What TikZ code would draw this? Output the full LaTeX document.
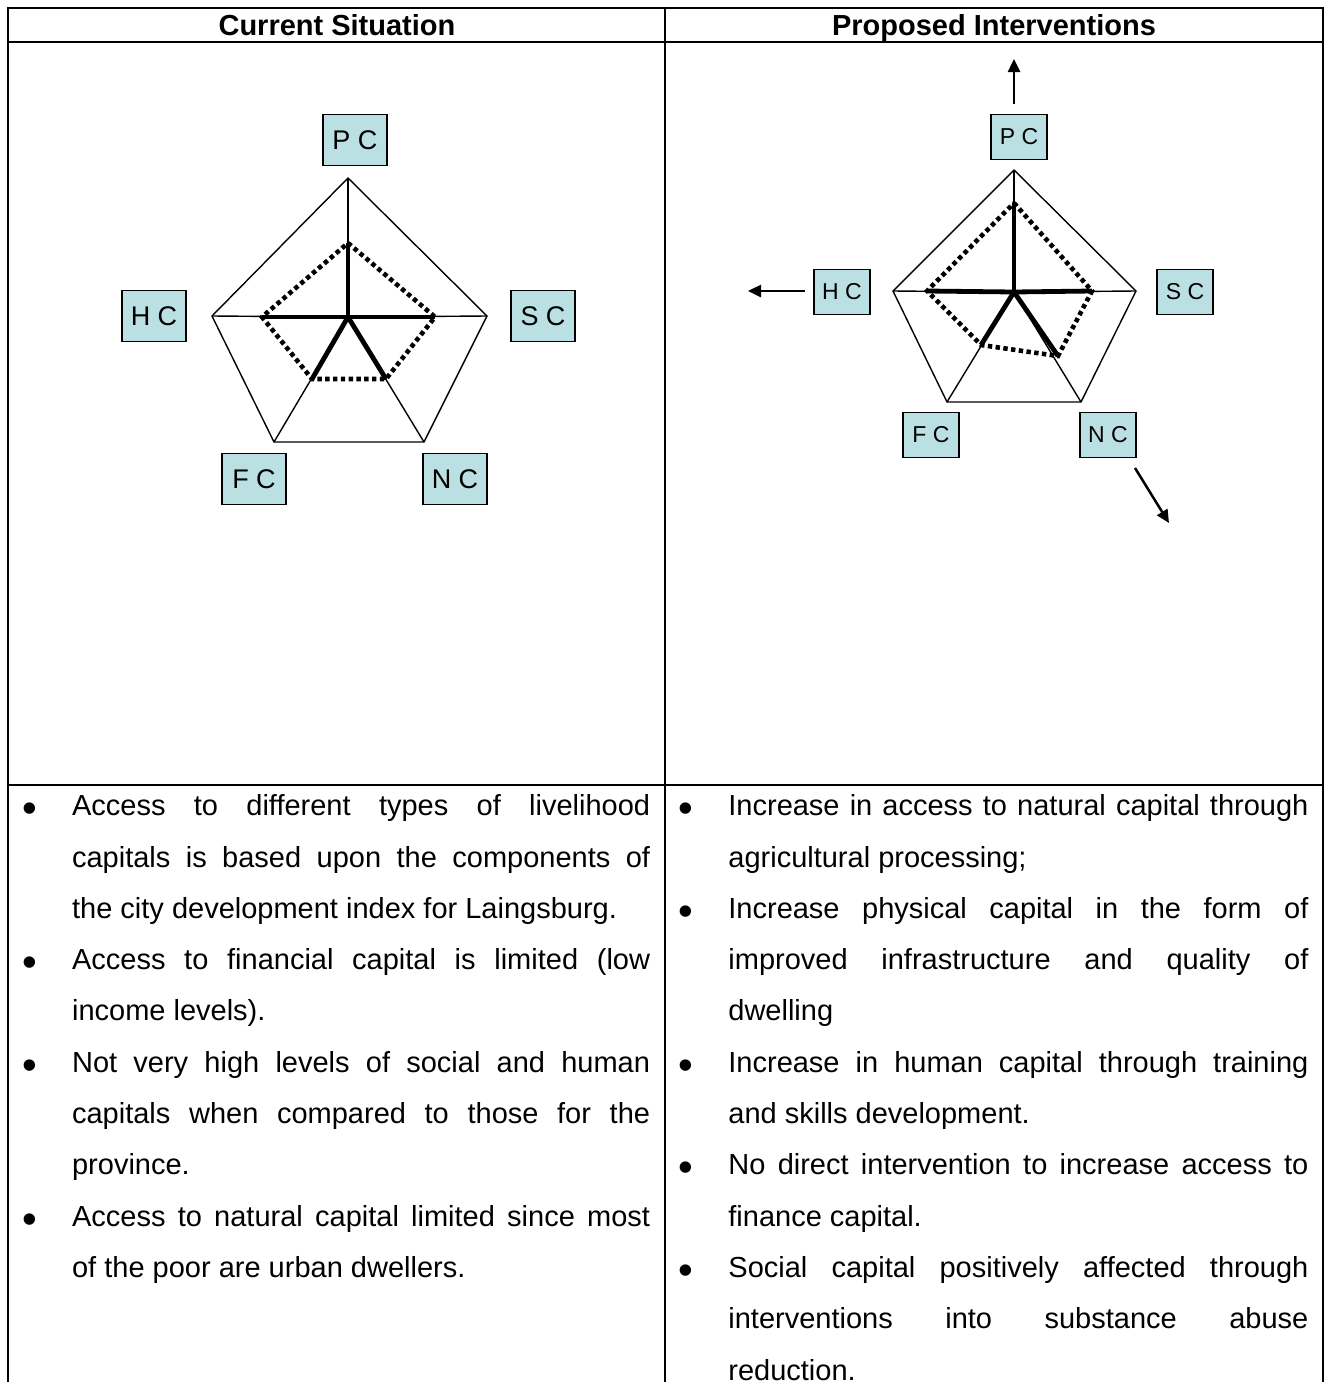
\documentclass[tikz,border=0pt]{standalone}
\usepackage{fontspec}
\setmainfont{Liberation Sans}
\usepackage{tikz}
\usetikzlibrary{arrows.meta}

\definecolor{capfill}{RGB}{187,224,227}

\begin{document}
\begin{tikzpicture}[x=0.5pt, y=-0.5pt,
  gridline/.style={line width=1pt},
  pentaline/.style={line width=0.7pt, line join=miter},
  spoke/.style={line width=2.4pt},
  ringdots/.style={line width=2.3pt, dash pattern=on 2.2pt off 1.7pt},
  pushes/.style={line width=1.25pt, -{Triangle[length=6.5pt,width=6pt]}},
  capbox/.style={draw=black, line width=0.6pt, fill=capfill, inner sep=0pt,
    minimum width=32pt, minimum height=25.5pt, font=\fontsize{13.5}{16}\selectfont},
  capboxs/.style={capbox, minimum width=28pt, minimum height=22.5pt,
    font=\fontsize{11.5}{14}\selectfont},
  headtext/.style={anchor=base, inner sep=0pt, font=\bfseries\fontsize{14.5}{17}\selectfont},
  bullettext/.style={anchor=base west, inner sep=0pt, align=justify,
    font=\fontsize{14.5}{25.65}\selectfont,
    execute at begin node={\tolerance=10000\hyphenpenalty=10000}},
  bulletmark/.style={anchor=center, inner sep=0pt, font=\fontsize{21}{24}\selectfont}
]
\useasboundingbox (0,0) rectangle (1324,1382);

% Table
\draw[gridline] (8,1400) -- (8,8) -- (1323,8) -- (1323,1400);
\draw[gridline] (8,42) -- (1323,42);
\draw[gridline] (665,8) -- (665,1400);
\draw[gridline] (8,785) -- (1323,785);

\node[headtext] (curHead) at (337,35.5) {Current Situation};
\node[headtext] (propHead) at (994,35.5) {Proposed Interventions};

% Current situation, pentagon
\coordinate (cO) at (348,317);
\coordinate (cP) at (348,178);
\coordinate (cS) at (487,316);
\coordinate (cN) at (424,442);
\coordinate (cF) at (274,442);
\coordinate (cH) at (212,316);
\draw[pentaline] (cP) -- (cS) -- (cN) -- (cF) -- (cH) -- cycle;
\foreach \v in {cP,cS,cN,cF,cH} \draw[pentaline] (cO) -- (\v);

\coordinate (cPd) at (348,243);
\coordinate (cSd) at (435,317);
\coordinate (cNd) at (386,379);
\coordinate (cFd) at (312,379);
\coordinate (cHd) at (262,317);
\draw[ringdots] (cPd) -- (cSd) -- (cNd) -- (cFd) -- (cHd) -- cycle;
\foreach \v in {cPd,cSd,cNd,cFd,cHd} \draw[spoke] (cO) -- (\v);

\node[capbox] (cPC) at (355,140) {P C};
\node[capbox] (cSC) at (543,316) {S C};
\node[capbox] (cNC) at (455,479) {N C};
\node[capbox] (cFC) at (254,479) {F C};
\node[capbox] (cHC) at (154,316) {H C};

% Proposed interventions, pentagon
\coordinate (pO) at (1014,292);
\coordinate (pP) at (1014,170);
\coordinate (pS) at (1136,291);
\coordinate (pN) at (1081,402);
\coordinate (pF) at (947,402);
\coordinate (pH) at (893,291);
\draw[pentaline] (pP) -- (pS) -- (pN) -- (pF) -- (pH) -- cycle;
\foreach \v in {pP,pS,pN,pF,pH} \draw[pentaline] (pO) -- (\v);

\coordinate (pPd) at (1014,203);
\coordinate (pSd) at (1092,291);
\coordinate (pNd) at (1058,356);
\coordinate (pFd) at (981,345);
\coordinate (pHd) at (927,291);
\draw[ringdots] (pPd) -- (pSd) -- (pNd) -- (pFd) -- (pHd) -- cycle;
\foreach \v in {pPd,pSd,pNd,pFd,pHd} \draw[spoke] (pO) -- (\v);

\node[capboxs] (pPC) at (1019,137) {P C};
\node[capboxs] (pSC) at (1185,292) {S C};
\node[capboxs] (pNC) at (1108,435) {N C};
\node[capboxs] (pFC) at (931,435) {F C};
\node[capboxs] (pHC) at (842,292) {H C};

% Shifts
\coordinate (upA) at (1014,104);
\coordinate (upB) at (1014,59);
\coordinate (leftA) at (805,291);
\coordinate (leftB) at (748,291);
\coordinate (downA) at (1135,468);
\coordinate (downB) at (1169,523);
\draw[pushes] (upA) -- (upB);
\draw[pushes] (leftA) -- (leftB);
\draw[pushes] (downA) -- (downB);

% Current situation, text
\foreach \y in {813,966.9,1069.5,1223.4} \node[bulletmark] at (30,\y) {\textbullet};
\node[bullettext, text width=289pt] (cur1) at (71.7,815.7) {Access to different types of livelihood\linebreak capitals is based upon the components of\linebreak the city development index for Laingsburg.};
\node[bullettext, text width=289pt] (cur2) at (71.7,969.6) {Access to financial capital is limited (low\linebreak income levels).};
\node[bullettext, text width=289pt] (cur3) at (71.7,1072.2) {Not very high levels of social and human\linebreak capitals when compared to those for the\linebreak province.};
\node[bullettext, text width=289pt] (cur4) at (71.7,1226.1) {Access to natural capital limited since most\linebreak of the poor are urban dwellers.};

% Proposed interventions, text
\foreach \y in {813,915.6,1069.5,1172.1,1274.7} \node[bulletmark] at (686,\y) {\textbullet};
\node[bullettext, text width=290pt] (prop1) at (728,815.7) {Increase in access to natural capital through\linebreak agricultural processing;};
\node[bullettext, text width=290pt] (prop2) at (728,918.3) {Increase physical capital in the form of\linebreak improved infrastructure and quality of\linebreak dwelling};
\node[bullettext, text width=290pt] (prop3) at (728,1072.2) {Increase in human capital through training\linebreak and skills development.};
\node[bullettext, text width=290pt] (prop4) at (728,1174.8) {No direct intervention to increase access to\linebreak finance capital.};
\node[bullettext, text width=290pt] (prop5) at (728,1277.4) {Social capital positively affected through\linebreak interventions into substance abuse\linebreak reduction.};

\end{tikzpicture}
\end{document}
